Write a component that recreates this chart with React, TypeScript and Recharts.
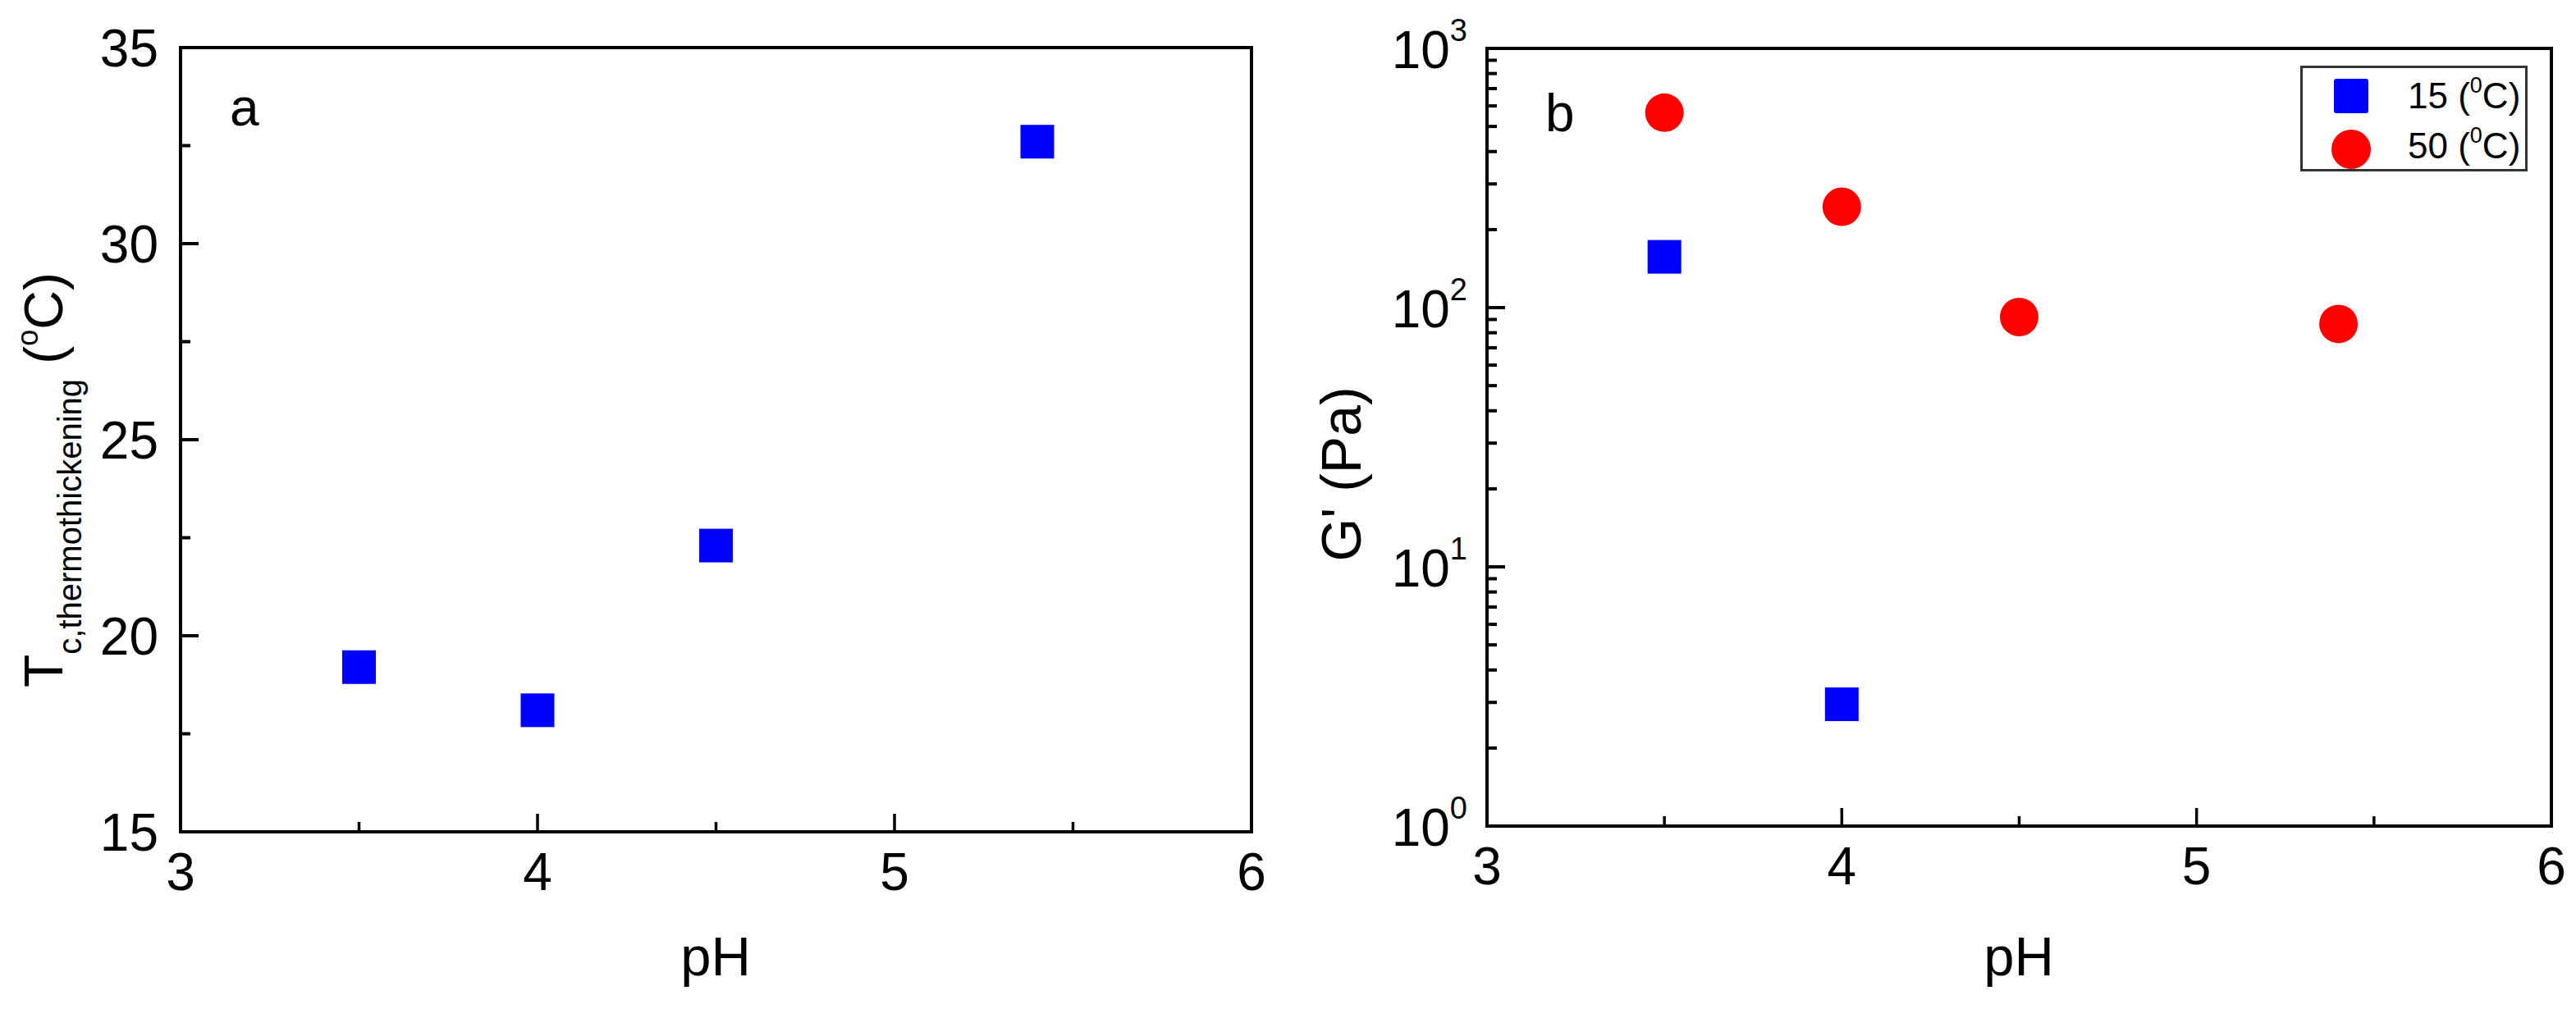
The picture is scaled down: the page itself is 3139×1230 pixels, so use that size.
import React from 'react';
import { ScatterChart, Scatter, XAxis, YAxis, ReferenceArea, Legend } from 'recharts';

// ---------- data ----------
const phA = [3.5, 4.0, 4.5, 5.4];
const tcThermo = [19.2, 18.1, 22.3, 32.6];

const ph15 = [3.5, 4.0];
const g15 = [157, 2.95];

const ph50 = [3.5, 4.0, 4.5, 5.4];
const g50 = [565, 245, 92, 86.5];

const xTicks = [3, 3.5, 4, 4.5, 5, 5.5, 6];
const xMajor = [3, 4, 5, 6];
const yTicksA = [15, 17.5, 20, 22.5, 25, 27.5, 30, 32.5, 35];
const yMajorA = [15, 20, 25, 30, 35];
const yTicksB = [1, 2, 3, 4, 5, 6, 7, 8, 9, 10, 20, 30, 40, 50, 60, 70, 80, 90, 100, 200, 300, 400, 500, 600, 700, 800, 900, 1000];
const yMajorB = [1, 10, 100, 1000];
const yMajorBExp: Record<number, string> = { 1: '0', 10: '1', 100: '2', 1000: '3' };

const seriesNames = ['15 (', '50 ('];

const dataA = phA.map((x, i) => ({ x, y: tcThermo[i] }));
const data15 = ph15.map((x, i) => ({ x, y: g15[i] }));
const data50 = ph50.map((x, i) => ({ x, y: g50[i] }));

// ---------- styles ----------
const FONT = "'Liberation Sans', Arial, sans-serif";
const BLUE = '#0000FF';
const RED = '#FF0000';
const TICK_FS = 64;
const AXIS_LINE = { stroke: '#000', strokeWidth: 4 };

const SquareShape = (p: any) => {
  const s = 41;
  return <rect x={p.cx - s / 2} y={p.cy - s / 2} width={s} height={s} fill={BLUE} />;
};
const CircleShape = (p: any) => <circle cx={p.cx} cy={p.cy} r={23.5} fill={RED} />;

const BottomTick = (p: any) => {
  const v = p.payload.value;
  const major = xMajor.includes(v);
  return (
    <g>
      <line x1={p.x} x2={p.x} y1={p.y} y2={p.y - (major ? 22 : 12)} stroke="#000" strokeWidth={3.5} />
      {major && (
        <text x={p.x} y={p.y + 71} textAnchor="middle" fontFamily={FONT} fontSize={TICK_FS} fill="#000">
          {v}
        </text>
      )}
    </g>
  );
};

const LeftTickA = (p: any) => {
  const v = p.payload.value;
  const major = yMajorA.includes(v);
  return (
    <g>
      <line x1={p.x} x2={p.x + (major ? 22 : 12)} y1={p.y} y2={p.y} stroke="#000" strokeWidth={4} />
      {major && (
        <text x={p.x - 27} y={p.y + 23} textAnchor="end" fontFamily={FONT} fontSize={TICK_FS} fill="#000">
          {v}
        </text>
      )}
    </g>
  );
};

const LeftTickB = (p: any) => {
  const v = p.payload.value;
  const major = yMajorB.includes(v);
  return (
    <g>
      <line x1={p.x} x2={p.x + (major ? 22 : 12)} y1={p.y} y2={p.y} stroke="#000" strokeWidth={4} />
      {major && (
        <text x={p.x - 24} y={p.y + 24} textAnchor="end" fontFamily={FONT} fontSize={TICK_FS} fill="#000">
          <tspan>10</tspan>
          <tspan dy={-33} fontSize={38}>{yMajorBExp[v]}</tspan>
        </text>
      )}
    </g>
  );
};

const LabelA = () => (
  <text transform="translate(76,585) rotate(-90)" textAnchor="middle" fontFamily={FONT} fontSize={66} fill="#000">
    <tspan>T</tspan>
    <tspan dy={23} fontSize={40}>c,thermothickening</tspan>
    <tspan dy={-23}> (</tspan>
    <tspan dy={-30} fontSize={36}>o</tspan>
    <tspan dy={30}>C)</tspan>
  </text>
);

const LabelB = () => (
  <text transform="translate(78,578) rotate(-90)" textAnchor="middle" fontFamily={FONT} fontSize={68} fill="#000">
    G' (Pa)
  </text>
);

const XLabel = (cx: number) => () => (
  <text x={cx} y={1189} textAnchor="middle" fontFamily={FONT} fontSize={67} fill="#000">
    pH
  </text>
);

const LegendBox = () => (
  <div style={{ width: 277, height: 129, border: '3px solid #333', boxSizing: 'border-box', background: '#fff' }}>
    <svg width={271} height={123} style={{ display: 'block' }}>
      <rect x={59 - 21} y={34 - 21} width={42} height={42} fill={BLUE} rx={3} />
      <circle cx={59} cy={99} r={24} fill={RED} />
      {seriesNames.map((n, i) => (
        <text key={n} x={128} y={49 + i * 61} fontFamily={FONT} fontSize={44} fill="#000">
          <tspan>{n}</tspan>
          <tspan dy={-19} fontSize={27}>0</tspan>
          <tspan dy={19}>C)</tspan>
        </text>
      ))}
    </svg>
  </div>
);

export default function App() {
  return (
    <div style={{ position: 'absolute', left: 0, top: 0, width: 3139, height: 1230, background: '#fff' }}>
      <div style={{ position: 'absolute', left: 0, top: 0 }}>
        <ScatterChart width={1580} height={1230} margin={{ top: 58, right: 55, left: 0, bottom: 0 }}>
          <XAxis
            dataKey="x"
            type="number"
            domain={[3, 6]}
            ticks={xTicks}
            interval={0}
            height={216}
            axisLine={AXIS_LINE}
            tickLine={false}
            tickSize={0}
            tickMargin={0}
            tick={BottomTick}
            label={{ content: XLabel(872) }}
          />
          <YAxis
            dataKey="y"
            type="number"
            domain={[15, 35]}
            ticks={yTicksA}
            interval={0}
            width={220}
            axisLine={AXIS_LINE}
            tickLine={false}
            tickSize={0}
            tickMargin={0}
            tick={LeftTickA}
            label={{ content: LabelA }}
          />
          <ReferenceArea x1={3} x2={6} y1={15} y2={35} fill="none" stroke="#000" strokeWidth={4} />
          <Scatter data={dataA} shape={SquareShape} isAnimationActive={false} />
          <text x={280} y={153} fontFamily={FONT} fontSize={64} fill="#000">a</text>
        </ScatterChart>
      </div>
      <div style={{ position: 'absolute', left: 1580, top: 0 }}>
        <ScatterChart width={1559} height={1230} margin={{ top: 59, right: 30, left: 0, bottom: 0 }}>
          <XAxis
            dataKey="x"
            type="number"
            domain={[3, 6]}
            ticks={xTicks}
            interval={0}
            height={223}
            axisLine={AXIS_LINE}
            tickLine={false}
            tickSize={0}
            tickMargin={0}
            tick={BottomTick}
            label={{ content: XLabel(880) }}
          />
          <YAxis
            dataKey="y"
            type="number"
            scale="log"
            domain={[1, 1000]}
            allowDataOverflow
            ticks={yTicksB}
            interval={0}
            width={232}
            axisLine={AXIS_LINE}
            tickLine={false}
            tickSize={0}
            tickMargin={0}
            tick={LeftTickB}
            label={{ content: LabelB }}
          />
          <ReferenceArea x1={3} x2={6} y1={1} y2={1000} fill="none" stroke="#000" strokeWidth={4} />
          <Scatter name="15 (oC)" data={data15} shape={SquareShape} isAnimationActive={false} />
          <Scatter name="50 (oC)" data={data50} shape={CircleShape} isAnimationActive={false} />
          <text x={303} y={160} fontFamily={FONT} fontSize={64} fill="#000">b</text>
          <Legend
            layout="vertical"
            align="center"
            verticalAlign="middle"
            content={LegendBox}
            wrapperStyle={{ position: 'absolute', left: 1223, top: 80, width: 277, height: 129 }}
          />
        </ScatterChart>
      </div>
    </div>
  );
}
